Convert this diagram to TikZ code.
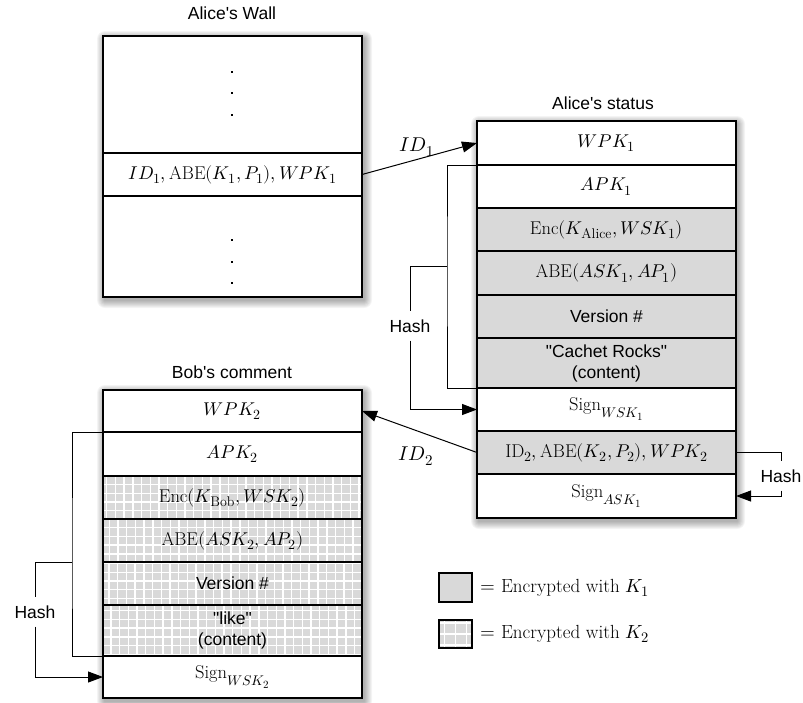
\documentclass[tikz,border=0pt]{standalone}
\usepackage{fontspec}
\usepackage{unicode-math}
\setmathfont{Latin Modern Math}
\newfontfamily\hel{Liberation Sans}
\DeclareMathSizes{18.5}{18.5}{14}{11}
\DeclareMathSizes{19}{19}{14.5}{11}
\DeclareMathSizes{20}{20}{15}{12}
\usetikzlibrary{arrows.meta,calc}
\newcommand\myshadow[4]{\foreach \e in {1,...,8}{\fill[black,opacity=0.045,rounded corners=\e pt] (#1+2-\e,#2+3-\e) rectangle (#3+2+\e,#4+3+\e);}}
\begin{document}
\begin{tikzpicture}[x=1pt,y=-1pt,
 every node/.style={font=\fontsize{18.5}{22}\selectfont},
 row/.style={draw=black, line width=1.2pt, fill=white, minimum width=259pt, inner sep=0pt, outer sep=0pt, anchor=north west, align=center},
 enca/.style={row, fill=gray!30},
 encb/.style={row, fill=gray!30, path picture={\draw[white,line width=1.4pt,step=8.7pt] (path picture bounding box.south west) grid (path picture bounding box.north east);}},
 sf/.style={font=\hel\fontsize{17.5}{21}\selectfont},
 idl/.style={font=\fontsize{20}{24}\selectfont},
 leg/.style={font=\fontsize{19}{23}\selectfont, anchor=west},
 conn/.style={line width=1pt},
 arr/.style={conn, -{Triangle[length=15pt,width=11pt]}},
 lbl/.style={sf, inner xsep=2pt, inner ysep=8pt}
]
\useasboundingbox (0,0) rectangle (803,702);

% ---------- Alice's Wall ----------
\node[sf] (tw) at (232,13) {Alice's Wall};
\myshadow{103}{36}{362}{297}
\node[row, minimum height=117pt] (w1) at (103,36) {};
\node[row, minimum height=43pt] (w2) at (w1.south west) {$ID_1, \mathrm{ABE}(K_1,P_1), WPK_1$};
\node[row, minimum height=101pt] (w3) at (w2.south west) {};
\foreach \y in {72,93,115,240,262,283} \fill (232-1.3,\y-1.3) rectangle (232+1.3,\y+1.3);

% ---------- Alice's status ----------
\node[sf] (ta) at (603,103) {Alice's status};
\myshadow{477}{121}{735}{518}
\begin{scope}[every node/.append style={minimum width=258pt}]
\node[row, minimum height=44pt] (a1) at (477,121) {$WPK_1$};
\node[row, minimum height=43pt] (a2) at (a1.south west) {$APK_1$};
\node[enca, minimum height=43pt] (a3) at (a2.south west) {$\mathrm{Enc}(K_{\mathrm{Alice}}, WSK_1)$};
\node[enca, minimum height=44pt] (a4) at (a3.south west) {$\mathrm{ABE}(ASK_1, AP_1)$};
\node[enca, sf, minimum height=43pt] (a5) at (a4.south west) {Version \#};
\node[enca, sf, minimum height=50pt] (a6) at (a5.south west) {"Cachet Rocks"\\(content)};
\node[row, minimum height=43pt] (a7) at (a6.south west) {$\mathrm{Sign}_{WSK_1}$};
\node[enca, minimum height=43pt] (a8) at (a7.south west) {$\mathrm{ID}_2, \mathrm{ABE}(K_2,P_2), WPK_2$};
\node[row, minimum height=44pt] (a9) at (a8.south west) {$\mathrm{Sign}_{ASK_1}$};
\end{scope}

% ---------- Bob's comment ----------
\node[sf] (tb) at (232,372) {Bob's comment};
\myshadow{103}{390}{362}{698}
\node[row, minimum height=42pt] (b1) at (103,390) {$WPK_2$};
\node[row, minimum height=44pt] (b2) at (b1.south west) {$APK_2$};
\node[encb, minimum height=43pt] (b3) at (b2.south west) {$\mathrm{Enc}(K_{\mathrm{Bob}}, WSK_2)$};
\node[encb, minimum height=43pt] (b4) at (b3.south west) {$\mathrm{ABE}(ASK_2, AP_2)$};
\node[encb, sf, minimum height=43pt] (b5) at (b4.south west) {Version \#};
\node[encb, sf, minimum height=51pt] (b6) at (b5.south west) {"like"\\(content)};
\node[row, minimum height=42pt] (b7) at (b6.south west) {$\mathrm{Sign}_{WSK_2}$};

% ---------- ID arrows ----------
\draw[arr] (w2.east) -- (a1.west);
\node[idl] (id1) at (417,147) {$ID_1$};
\draw[arr] (a8.west) -- (b1.east);
\node[idl] (id2) at (416,456) {$ID_2$};

% ---------- Hash (Alice) ----------
\coordinate (hA) at (447,266);
\draw[conn] (a2.north west) -| (hA) |- (a7.north west);
\node[lbl] (hashA) at (410,326) {Hash};
\draw[conn] (hA) -| (hashA.north);
\draw[arr] (hashA.south) |- (a7.west);

% ---------- Hash (right) ----------
\node[lbl] (hashC) at (781,476) {Hash};
\draw[conn] (a8.east) -| (hashC.north);
\draw[arr] (hashC.south) |- (a9.east);

% ---------- Hash (Bob) ----------
\coordinate (hB) at (72,562);
\draw[conn] (b2.north west) -| (hB) |- (b7.north west);
\node[lbl] (hashB) at (35,612) {Hash};
\draw[conn] (hB) -| (hashB.north);
\draw[arr] (hashB.south) |- (b7.west);

% ---------- Legend ----------
\node[row, fill=gray!30, minimum width=33pt, minimum height=29pt] (l1) at (439,573) {};
\node[leg] (t1) at (477,588) {$=$ Encrypted with $K_1$};
\node[row, fill=gray!30, minimum width=33pt, minimum height=28pt,
  path picture={\draw[white,line width=1.4pt,step=11pt] (path picture bounding box.south west) grid (path picture bounding box.north east);}] (l2) at (439,620) {};
\node[leg] (t2) at (477,634) {$=$ Encrypted with $K_2$};
\end{tikzpicture}
\end{document}
